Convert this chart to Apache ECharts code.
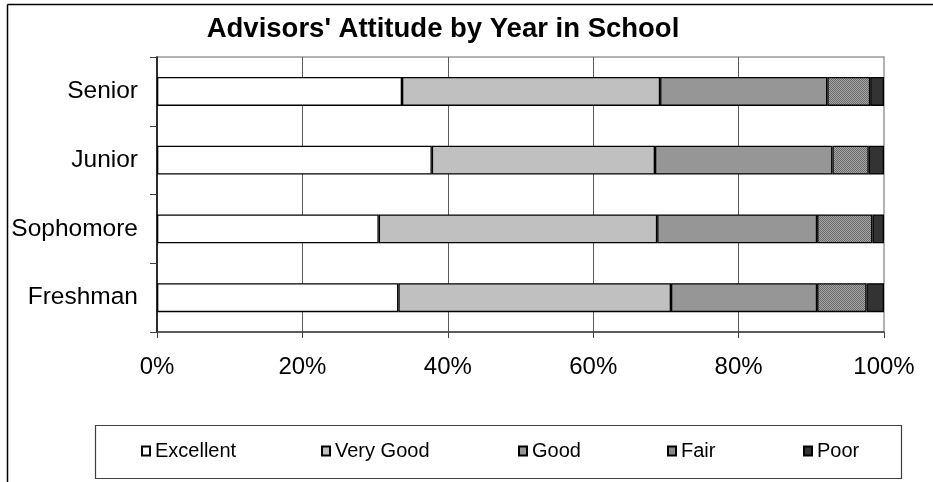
<!DOCTYPE html>
<html>
<head>
<meta charset="utf-8">
<script src="https://cdn.jsdelivr.net/npm/echarts@6/dist/echarts.min.js"></script>
<style>
  html, body { margin: 0; padding: 0; background: #ffffff; }
  #chart { width: 933px; height: 482px; }
</style>
</head>
<body>
<div id="chart"></div>
<script>
// Year in school, listed bottom to top on the category axis
const categories = ['Freshman', 'Sophomore', 'Junior', 'Senior'];

// Share of responses (%) per rating, one value per year
const excellent = [33.2, 30.5, 37.8, 33.7];
const veryGood  = [37.5, 38.3, 30.7, 35.5];
const good      = [20.1, 22.0, 24.4, 23.0];
const fair      = [6.8, 7.6, 5.0, 5.9];
const poor      = [2.4, 1.6, 2.1, 1.9];

const ratingNames = ['Excellent', 'Very Good', 'Good', 'Fair', 'Poor'];
const percentTicks = [0, 20, 40, 60, 80, 100];

const FONT = '"Liberation Sans", Arial, sans-serif';

// Fine checkerboard used for the "Fair" segments
function checkerPattern() {
  const c = document.createElement('canvas');
  c.width = 2; c.height = 2;
  const g = c.getContext('2d');
  g.fillStyle = '#a6a6a6'; g.fillRect(0, 0, 2, 2);
  g.fillStyle = '#6a6a6a'; g.fillRect(0, 0, 1, 1); g.fillRect(1, 1, 1, 1);
  return c;
}

const fills = ['#ffffff', '#c0c0c0', '#969696', { image: checkerPattern(), repeat: 'repeat' }, '#333333'];
const values = [excellent, veryGood, good, fair, poor];

const series = ratingNames.map((name, i) => ({
  name: name,
  type: 'bar',
  stack: 'total',
  barWidth: 29,
  data: values[i],
  itemStyle: { color: fills[i], borderColor: '#000000', borderWidth: 1.3 },
  emphasis: { disabled: true },
  animation: false
}));

// One legend per rating so each entry sits at its own spot in the box
const legendLefts = [141, 321, 518, 667, 803];
const legends = ratingNames.map((name, i) => ({
  data: [name],
  left: legendLefts[i],
  top: 441,
  padding: 0,
  orient: 'horizontal',
  icon: 'rect',
  itemWidth: 8,
  itemHeight: 9,
  selectedMode: false,
  textStyle: { fontFamily: FONT, fontSize: 20, color: '#000000' }
}));

const chart = echarts.init(document.getElementById('chart'), null, { renderer: 'canvas' });

chart.setOption({
  backgroundColor: '#ffffff',
  animation: false,
  grid: {
    left: 157, right: 49, top: 57, bottom: 150,
    show: true, borderColor: '#9a9a9a', borderWidth: 1.5, backgroundColor: 'transparent'
  },
  legend: legends,
  xAxis: {
    type: 'value',
    min: percentTicks[0],
    max: percentTicks[percentTicks.length - 1],
    interval: percentTicks[1] - percentTicks[0],
    axisLine: { show: true, lineStyle: { color: '#404040', width: 1.5 } },
    axisTick: { show: true, length: 6, lineStyle: { color: '#404040', width: 1 } },
    axisLabel: {
      margin: 23,
      fontFamily: FONT, fontSize: 24, color: '#000000',
      formatter: '{value}%'
    },
    splitLine: { show: true, showMinLine: false, showMaxLine: false, lineStyle: { color: '#5a5a5a', width: 1 } }
  },
  yAxis: {
    type: 'category',
    data: categories,
    axisLine: { show: true, lineStyle: { color: '#000000', width: 1.5 } },
    axisTick: { show: true, length: 7, lineStyle: { color: '#404040', width: 1 } },
    axisLabel: { margin: 19, fontFamily: FONT, fontSize: 24.5, color: '#000000' },
    splitLine: { show: false }
  },
  series: series,
  graphic: [
    // outer chart frame (top and left edges)
    { type: 'line', shape: { x1: 7.5, y1: 4.5, x2: 933, y2: 4.5 }, style: { stroke: '#000000', lineWidth: 1.5 }, silent: true },
    { type: 'line', shape: { x1: 7.5, y1: 4.5, x2: 7.5, y2: 482 }, style: { stroke: '#000000', lineWidth: 1.5 }, silent: true },
    // legend box
    { type: 'rect', shape: { x: 95.5, y: 425.5, width: 806, height: 53 }, style: { fill: 'none', stroke: '#404040', lineWidth: 1.2 }, silent: true, z: 0 },
    // chart title
    {
      type: 'text', x: 443, y: 15, silent: true,
      style: {
        text: "Advisors' Attitude by Year in School",
        fontFamily: FONT, fontSize: 27.5, fontWeight: 'bold',
        fill: '#000000', textAlign: 'center', textVerticalAlign: 'top'
      }
    }
  ]
});
</script>
</body>
</html>
